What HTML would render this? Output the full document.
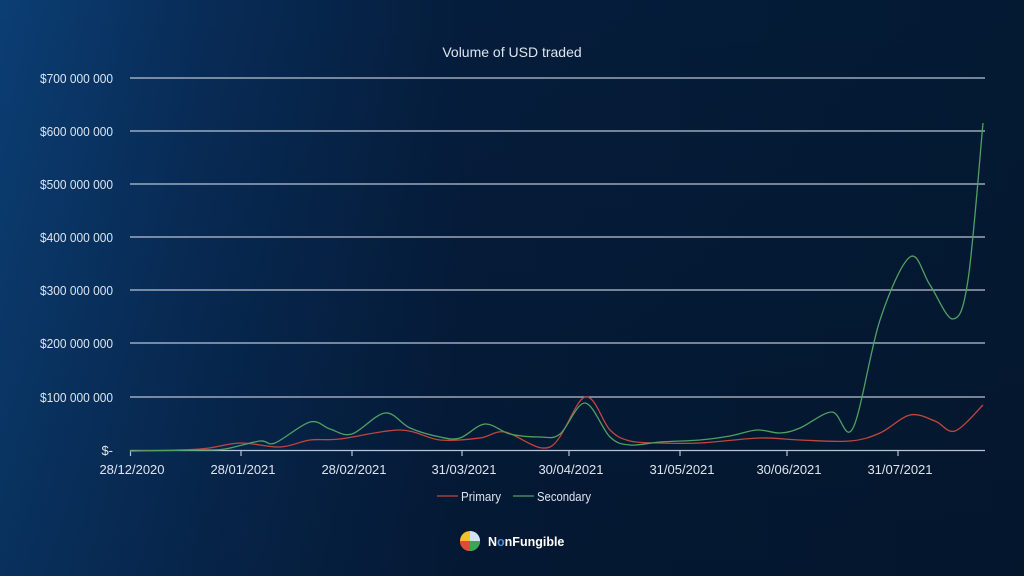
<!DOCTYPE html>
<html><head><meta charset="utf-8"><style>
html,body{margin:0;padding:0}
body{width:1024px;height:576px;overflow:hidden;background:linear-gradient(90deg,#0b3e74 0%,#082c57 20%,#051d3c 45%,#041a33 100%);font-family:"Liberation Sans",sans-serif}
svg{position:absolute;left:0;top:0}
</style></head><body>
<div style="position:absolute;left:0;top:0;width:1024px;height:576px;background:linear-gradient(180deg,rgba(0,0,0,0) 0%,rgba(2,10,25,0.25) 100%)"></div>
<svg width="1024" height="576" viewBox="0 0 1024 576">
<g stroke="#b9c3d3" stroke-width="1.2">
<line x1="130" x2="985" y1="78" y2="78"/><line x1="130" x2="985" y1="131" y2="131"/>
<line x1="130" x2="985" y1="184" y2="184"/><line x1="130" x2="985" y1="237" y2="237"/>
<line x1="130" x2="985" y1="290" y2="290"/><line x1="130" x2="985" y1="343" y2="343"/>
<line x1="130" x2="985" y1="397" y2="397"/><line x1="130" x2="985" y1="450.5" y2="450.5"/>
<line x1="130.5" x2="130.5" y1="450" y2="456"/><line x1="241" x2="241" y1="450" y2="456"/>
<line x1="352" x2="352" y1="450" y2="456"/><line x1="462" x2="462" y1="450" y2="456"/>
<line x1="569" x2="569" y1="450" y2="456"/><line x1="680" x2="680" y1="450" y2="456"/>
<line x1="787" x2="787" y1="450" y2="456"/><line x1="898" x2="898" y1="450" y2="456"/>
</g>
<g fill="#dfe5ee" font-size="13" text-anchor="end">
<text x="113" y="83" textLength="73" lengthAdjust="spacingAndGlyphs">$700 000 000</text><text x="113" y="136" textLength="73" lengthAdjust="spacingAndGlyphs">$600 000 000</text>
<text x="113" y="189" textLength="73" lengthAdjust="spacingAndGlyphs">$500 000 000</text><text x="113" y="242" textLength="73" lengthAdjust="spacingAndGlyphs">$400 000 000</text>
<text x="113" y="295" textLength="73" lengthAdjust="spacingAndGlyphs">$300 000 000</text><text x="113" y="348" textLength="73" lengthAdjust="spacingAndGlyphs">$200 000 000</text>
<text x="113" y="402" textLength="73" lengthAdjust="spacingAndGlyphs">$100 000 000</text><text x="113" y="455">$-</text>
</g>
<g fill="#dfe5ee" font-size="13" text-anchor="middle">
<text x="132" y="474">28/12/2020</text><text x="243" y="474">28/01/2021</text>
<text x="354" y="474">28/02/2021</text><text x="464" y="474">31/03/2021</text>
<text x="571" y="474">30/04/2021</text><text x="682" y="474">31/05/2021</text>
<text x="789" y="474">30/06/2021</text><text x="900" y="474">31/07/2021</text>
<text x="512" y="57" font-size="14">Volume of USD traded</text>
</g>
<path id="pr" fill="none" stroke="#c0463f" stroke-width="1.3"/>
<path id="se" fill="none" stroke="#4fa163" stroke-width="1.3"/>
<line x1="437" x2="458" y1="496" y2="496" stroke="#c0463f" stroke-width="1.3"/>
<text x="461" y="501" fill="#dfe5ee" font-size="13" textLength="40" lengthAdjust="spacingAndGlyphs">Primary</text>
<line x1="513" x2="534" y1="496" y2="496" stroke="#4fa163" stroke-width="1.3"/>
<text x="537" y="501" fill="#dfe5ee" font-size="13" textLength="54" lengthAdjust="spacingAndGlyphs">Secondary</text>
<circle cx="470" cy="541" r="10" fill="#f2c12e"/>
<path d="M470 541 L470 551 A10 10 0 0 1 460 541Z" fill="#e04a3a"/>
<path d="M470 541 L470 551 A10 10 0 0 0 480 541Z" fill="#3aa655"/>
<path d="M470 541 L480 541 A10 10 0 0 0 470 531Z" fill="#cfe3f2"/>
<text x="488" y="546" fill="#fff" font-size="12.5" font-weight="bold">N<tspan fill="#4a90d9">o</tspan>nFungible</text>
</svg>
<script>
function path(p){var d="M"+p[0][0]+" "+p[0][1];for(var i=0;i<p.length-1;i++){var a=p[i-1]||p[i],b=p[i],c=p[i+1],e=p[i+2]||c;
d+=" C"+(b[0]+(c[0]-a[0])/6)+" "+(b[1]+(c[1]-a[1])/6)+" "+(c[0]-(e[0]-b[0])/6)+" "+(c[1]-(e[1]-b[1])/6)+" "+c[0]+" "+c[1];}return d;}
var se=[[130,451],[200,450],[225,449],[260,441],[275,443],[310,422],[330,429],[352,434],[385,413],[410,428],[440,437],[460,438],[485,424],[510,434],[540,437],[560,434],[585,403],[610,437],[630,445],[660,442],[700,440],[730,436],[757,430],[780,433],[800,428],[832,412],[853,428],[880,320],[910,257],[930,285],[953,319],[968,280],[983,123]];
var pr=[[130,451],[200,449],[240,443],[280,447],[310,440],[340,439],[400,430],[440,440],[480,438],[505,432],[550,447],[585,397],[610,430],[630,441],[660,443],[700,443],[760,438],[800,440],[850,441],[880,433],[910,415],[935,421],[955,431],[983,405]];
document.getElementById("se").setAttribute("d",path(se));
document.getElementById("pr").setAttribute("d",path(pr));
</script>
</body></html>
